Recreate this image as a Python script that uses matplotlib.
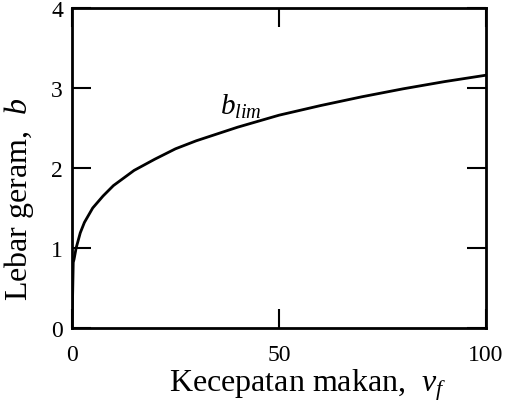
import matplotlib
matplotlib.use('Agg')
import matplotlib.pyplot as plt

plt.rcParams['font.family'] = 'Liberation Serif'
plt.rcParams['mathtext.fontset'] = 'custom'
plt.rcParams['mathtext.rm'] = 'Liberation Serif'
plt.rcParams['mathtext.it'] = 'Liberation Serif:italic'

# feed rate vs limiting chip width
v_f = [0, 0.3, 0.5, 1, 2, 3, 5, 7.5, 10, 15, 20, 25, 30, 40, 50, 60, 70, 80, 90, 100]
b_lim = [0, 0.82, 0.86, 1.0, 1.19, 1.32, 1.5, 1.65, 1.78, 1.97, 2.11, 2.24, 2.34,
         2.51, 2.66, 2.78, 2.89, 2.99, 3.08, 3.16]

xticks = [0, 50, 100]
yticks = [0, 1, 2, 3, 4]

fig = plt.figure(figsize=(5.07, 4.06), dpi=100)
ax = fig.add_axes([72/507, 1 - 329/406, 414/507, 320/406])

ax.plot(v_f, b_lim, color='black', lw=2)
ax.text(35.7, 2.68, r'$b_{lim}$', fontsize=21)

ax.set_xlim(0, 100)
ax.set_ylim(0, 4)
ax.set_xticks(xticks)
ax.set_yticks(yticks)
ax.tick_params(direction='in', length=14, width=1.5, top=True, right=True,
               labelsize=17)
ax.tick_params(axis='x', pad=11.5)
ax.tick_params(axis='y', pad=6.5)
for s in ax.spines.values():
    s.set_linewidth(2)

ax.set_xlabel(r'Kecepatan makan,  $v_f$', fontsize=23)
ax.set_ylabel(r'Lebar geram,  $b$', fontsize=23)
ax.xaxis.set_label_coords(0.569, -0.121)
ax.yaxis.set_label_coords(-0.087, 0.406)

fig.savefig('out.png', dpi=100)
